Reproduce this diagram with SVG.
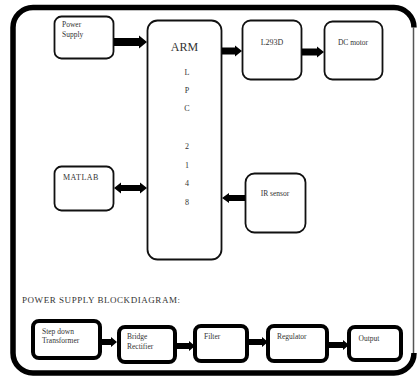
<svg xmlns="http://www.w3.org/2000/svg" width="418" height="379" viewBox="0 0 418 379">
<style>
.box{fill:#fff;stroke:#111;stroke-width:1.8}
.tbox{fill:#fff;stroke:#000;stroke-width:4}
.t{font-family:"Liberation Serif","Times New Roman",serif;fill:#333}
.arr{fill:#000}
</style>
<rect width="418" height="379" fill="#fff"/>
<g id="frame">
<path d="M394,7.5 L33,7.5 A20,20 0 0 0 13,27.5 L13,353 A20,20 0 0 0 33,373 L394,373 A20,20 0 0 0 414,353" fill="none" stroke="#000" stroke-width="5.5"/>
<path d="M394,7.5 A20,20 0 0 1 414,27.5" fill="none" stroke="#000" stroke-width="5.5"/>
<line x1="413.5" y1="27" x2="413.5" y2="353" stroke="#555" stroke-width="1.5"/>
</g>
<g id="power-supply">
<rect class="box" x="54.5" y="16.5" width="59" height="42" rx="7"/>
<text class="t" x="62" y="27" font-size="7.5">Power</text>
<text class="t" x="62" y="37" font-size="7.5">Supply</text>
</g>
<g id="arm">
<rect class="box" x="147.5" y="20.5" width="74" height="239" rx="10"/>
<text class="t" x="184.5" y="51" font-size="12" text-anchor="middle">ARM</text>
<text class="t" x="187" y="75" font-size="8" text-anchor="middle">L</text>
<text class="t" x="187" y="93" font-size="8" text-anchor="middle">P</text>
<text class="t" x="187" y="111" font-size="8" text-anchor="middle">C</text>
<text class="t" x="187" y="149" font-size="8" text-anchor="middle">2</text>
<text class="t" x="187" y="168" font-size="8" text-anchor="middle">1</text>
<text class="t" x="187" y="186" font-size="8" text-anchor="middle">4</text>
<text class="t" x="187" y="205" font-size="8" text-anchor="middle">8</text>
</g>
<g id="l293d">
<rect class="box" x="242.5" y="20.5" width="59" height="59" rx="8"/>
<text class="t" x="272" y="45" font-size="8" text-anchor="middle">L293D</text>
</g>
<g id="dc-motor">
<rect class="box" x="324.5" y="21.5" width="58" height="58" rx="8"/>
<text class="t" x="353" y="45" font-size="7.5" text-anchor="middle">DC motor</text>
</g>
<g id="matlab">
<rect class="box" x="54.5" y="166.5" width="59" height="44" rx="7"/>
<text class="t" x="63" y="180" font-size="8" letter-spacing="0.5">MATLAB</text>
</g>
<g id="ir-sensor">
<rect class="box" x="245.5" y="173.5" width="60" height="59" rx="9"/>
<text class="t" x="275" y="196" font-size="7.5" text-anchor="middle">IR sensor</text>
</g>
<text class="t" x="22" y="303" font-size="9" textLength="158">POWER SUPPLY BLOCKDIAGRAM:</text>
<g id="step-down">
<rect class="tbox" x="33" y="321" width="67" height="37" rx="6"/>
<text class="t" x="42" y="334" font-size="7.5">Step down</text>
<text class="t" x="42" y="343" font-size="7.5">Transformer</text>
</g>
<g id="bridge">
<rect class="tbox" x="119" y="327" width="56" height="35" rx="6"/>
<text class="t" x="127" y="339" font-size="7.5">Bridge</text>
<text class="t" x="127" y="349" font-size="7.5">Rectifier</text>
</g>
<g id="filter">
<rect class="tbox" x="195" y="326" width="52" height="35" rx="6"/>
<text class="t" x="204" y="339" font-size="7.5">Filter</text>
</g>
<g id="regulator">
<rect class="tbox" x="268" y="326" width="59" height="35" rx="6"/>
<text class="t" x="277" y="339" font-size="7.5">Regulator</text>
</g>
<g id="output">
<rect class="tbox" x="349" y="327" width="52" height="33" rx="6"/>
<text class="t" x="369" y="341" font-size="7.5" text-anchor="middle">Output</text>
</g>
<g id="connectors" class="arr">
<polygon points="114,38 139,38 139,35.5 147,42 139,48.5 139,46 114,46"/>
<polygon points="222,47.5 235,47.5 235,45.5 242,51 235,56.5 235,54.5 222,54.5"/>
<polygon points="302,48.5 317,48.5 317,46.5 324,52 317,57.5 317,55.5 302,55.5"/>
<polygon points="114,188 121,182.5 121,185 140,185 140,182.5 147,188 140,193.5 140,191 121,191 121,193.5"/>
<polygon points="245,195 229,195 229,193 222,198 229,203 229,201 245,201"/>
<polygon points="101,339 111,339 111,337 117,342 111,347 111,345 101,345"/>
<polygon points="175,343 189,343 189,341 195,346 189,351 189,349 175,349"/>
<polygon points="247,339 262,339 262,337 268,342 262,347 262,345 247,345"/>
<polygon points="327,342 343,342 343,340 349,345 343,350 343,348 327,348"/>
</g>
</svg>
